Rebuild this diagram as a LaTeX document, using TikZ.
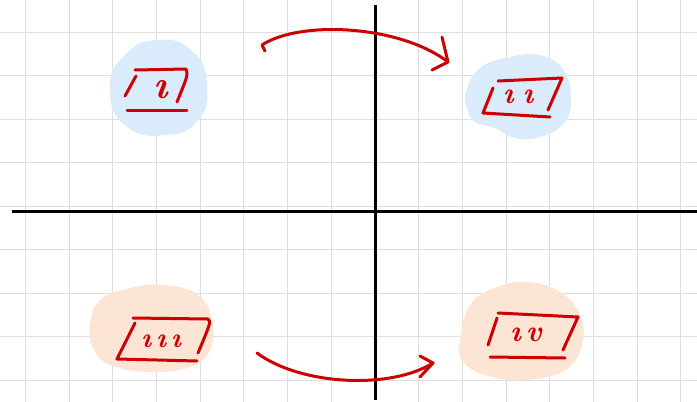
\documentclass[tikz,border=0pt]{standalone}
\usepackage{fontspec}
\definecolor{inkred}{HTML}{CC0000}
\definecolor{blobblue}{HTML}{DAEBFB}
\definecolor{bloborange}{HTML}{FDE5D5}
\definecolor{gridgray}{HTML}{DEDEDE}
\tikzset{
  gridline/.style={draw=gridgray,line width=1pt},
  axisline/.style={draw=black,line width=3pt},
  ink/.style={draw=inkred,line width=3pt,line cap=round,line join=round},
  numeral/.style={text=inkred,inner sep=0pt,font=\bfseries\itshape},
}
\begin{document}
\begin{tikzpicture}[x=1pt,y=-1pt]
\useasboundingbox (0,0) rectangle (697,402);
\fill[white] (0,0) rectangle (697,402);
% grid
\foreach \gx in {25.4,69.1,112.8,156.5,200.2,243.9,287.6,331.3,418.7,462.4,506.1,549.8,593.5,637.2,680.9}
  \draw[gridline] (\gx,0) -- (\gx,402);
\foreach \gy in {32,75.5,119,162.5,206,249.5,293,336.5,380}
  \draw[gridline] (0,\gy) -- (697,\gy);
% blobs
\fill[blobblue] plot[smooth cycle,tension=0.9] coordinates {(110,90) (124,56) (158,40) (193,52) (207,86) (198,120) (166,135) (126,126)};
\fill[blobblue] plot[smooth cycle,tension=0.7] coordinates {(466,92) (480,68) (510,57) (540,55) (562,68) (571,95) (565,122) (540,137) (515,138) (495,128) (475,122) (467,108)};
\fill[bloborange] plot[smooth cycle,tension=0.7] coordinates {(90,325) (100,300) (130,288) (165,285) (198,295) (212,320) (210,350) (190,367) (150,372) (110,365) (93,348)};
\fill[bloborange] plot[smooth cycle,tension=0.7] coordinates {(460,340) (470,305) (495,288) (527,282) (560,292) (580,315) (582,345) (565,370) (525,380) (485,375) (462,360)};
% axes
\draw[axisline] (12,211) -- (697,211);
\draw[axisline] (375,5) -- (375,400);
% quadrant I (top-left)
\draw[ink] (135,70) -- (186,69) .. controls (188,75) .. (177,102);
\draw[ink] (136,76) -- (125,96);
\draw[ink] (127,110) -- (187,110);
\node[numeral,font=\fontsize{40}{40}\selectfont\bfseries\itshape] (q1) at (161,90) {ı};
% quadrant II (top-right)
\draw[ink] (498,81) -- (562,78) -- (548,110);
\draw[ink] (493,88) -- (483,113) -- (550,117);
\node[numeral,font=\fontsize{30}{30}\selectfont\bfseries\itshape] (q2) at (518,97) {ı\hspace{9pt}ı};
% quadrant III (bottom-left)
\draw[ink] (133,318) -- (208,319) .. controls (211,322) .. (198,353);
\draw[ink] (135,323) -- (117,359) -- (197,361);
\node[numeral,font=\fontsize{28}{28}\selectfont\bfseries\itshape] (q3) at (161,341) {ı\hspace{5pt}ı\hspace{5pt}ı};
% quadrant IV (bottom-right)
\draw[ink] (498,313) -- (578,317) -- (563,350);
\draw[ink] (497,318) -- (488,345);
\draw[ink] (490,357) -- (565,358);
\node[numeral,font=\fontsize{30}{30}\selectfont\bfseries\itshape] (q4) at (526,335) {ı\hspace{5pt}v};
% arrows
\coordinate (a1s) at (262,45);
\coordinate (a1e) at (448,62);
\draw[ink] (265,51) -- (a1s) .. controls (300,20) and (400,25) .. (a1e);
\draw[ink] (442,37) -- (a1e) -- (432,70);
\coordinate (a2s) at (257,353);
\coordinate (a2e) at (433,363);
\draw[ink] (a2s) .. controls (300,385) and (390,390) .. (a2e);
\draw[ink] (420,356) -- (a2e) -- (420,377);
\end{tikzpicture}
\end{document}
